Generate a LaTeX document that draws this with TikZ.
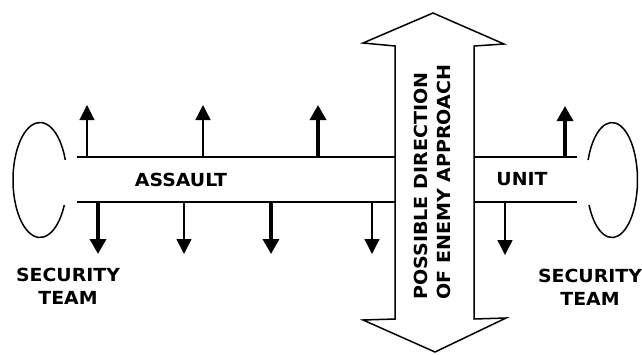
\documentclass[tikz,border=0pt]{standalone}
\usepackage{fontspec}
\setmainfont{DejaVu Sans}
\usetikzlibrary{arrows.meta}
\tikzset{
  lbl/.style={inner sep=0pt, font=\fontsize{18}{23}\selectfont\bfseries, align=center},
  bandline/.style={line width=1.5pt},
  outline/.style={line width=1.5pt, line join=miter},
  thinarrow/.style={line width=1.4pt, -{Triangle[width=15pt 0,length=15pt 0 0]}},
  thickarrow/.style={line width=3.4pt, -{Triangle[width=16pt 0,length=15pt 0 0]}},
}
\newcommand{\wid}[1]{\scalebox{1.05}[1]{#1}}
\begin{document}
\begin{tikzpicture}[x=1pt,y=-1pt]
\useasboundingbox (0,0) rectangle (642,354);
% double arrow
\draw[outline] (433,13) -- (504,44) -- (474,46) -- (474,319) -- (506,318)
  -- (435,352) -- (363,320) -- (395,319) -- (395,46) -- (363,43) -- cycle;
% band
\coordinate (bl1) at (77,157); \coordinate (bl2) at (395,157);
\coordinate (bl3) at (77,202); \coordinate (bl4) at (395,202);
\coordinate (br1) at (474,157); \coordinate (br2) at (577,157);
\coordinate (br3) at (474,202); \coordinate (br4) at (577,202);
\draw[bandline] (bl1) -- (bl2);
\draw[bandline] (bl3) -- (bl4);
\draw[bandline] (br1) -- (br2);
\draw[bandline] (br3) -- (br4);
% security ellipses
\draw[line width=1.5pt] (64.3,205) arc[start angle=25.8, end angle=339.6, x radius=27, y radius=57.5];
\draw[line width=1.5pt] (588.1,160) arc[start angle=200.4, end angle=514.2, x radius=25.5, y radius=57.5];
% up arrows
\coordinate (u1b) at (87,157); \coordinate (u1t) at (87,105);
\coordinate (u2b) at (203,157); \coordinate (u2t) at (203,105);
\coordinate (u3b) at (318,157); \coordinate (u3t) at (318,105);
\coordinate (u4b) at (565,157); \coordinate (u4t) at (565,106);
\draw[thinarrow, line width=1.1pt] (u1b) -- (u1t);
\draw[thinarrow] (u2b) -- (u2t);
\draw[thickarrow] (u3b) -- (u3t);
\draw[thickarrow] (u4b) -- (u4t);
% down arrows
\coordinate (d1b) at (98,202); \coordinate (d1t) at (98,254);
\coordinate (d2b) at (184,202); \coordinate (d2t) at (184,254);
\coordinate (d3b) at (271,202); \coordinate (d3t) at (271,254);
\coordinate (d4b) at (372,202); \coordinate (d4t) at (372,254);
\coordinate (d5b) at (505,202); \coordinate (d5t) at (505,255);
\draw[thickarrow] (d1b) -- (d1t);
\draw[thinarrow] (d2b) -- (d2t);
\draw[thickarrow] (d3b) -- (d3t);
\draw[thinarrow] (d4b) -- (d4t);
\draw[thinarrow] (d5b) -- (d5t);
% labels
\node[lbl] (assault) at (181,180) {\wid{ASSAULT}};
\node[lbl] (unit) at (522,179) {\wid{UNIT}};
\node[lbl] (secl) at (68,286) {\wid{SECURITY}\\\wid{TEAM}};
\node[lbl] (secr) at (590,287) {\wid{SECURITY}\\\wid{TEAM}};
\node[lbl, align=left, rotate=90, anchor=west] (dir) at (432,300)
  {\scalebox{1.06}[1]{POSSIBLE DIRECTION}\\\scalebox{1.06}[1]{OF ENEMY APPROACH}};
\end{tikzpicture}
\end{document}
